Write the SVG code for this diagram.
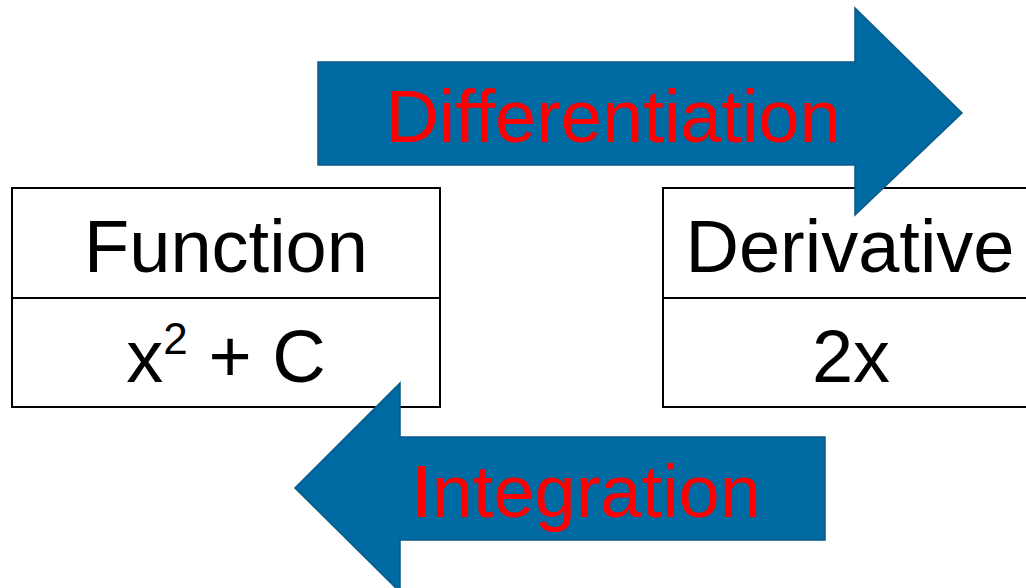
<svg xmlns="http://www.w3.org/2000/svg" width="1026" height="588" viewBox="0 0 1026 588">
<style>
.cell{fill:#fff;stroke:#000;stroke-width:2}
.t{font-family:"Liberation Sans",Arial,sans-serif;font-size:74px;fill:#000;text-anchor:middle}
.lbl{font-family:"Liberation Sans",Arial,sans-serif;font-size:74px;fill:#ff0000;text-anchor:middle}
.arrow{fill:#006aa2;stroke:#0b5a86;stroke-width:1.5}
</style>
<rect width="1026" height="588" fill="#fff"/>
<g id="function">
<rect class="cell" x="12" y="188" width="428" height="110"/>
<rect class="cell" x="12" y="298" width="428" height="109"/>
<text class="t" x="226" y="272">Function</text>
<text class="t" x="226" y="382">x<tspan font-size="44" dy="-28">2</tspan><tspan dy="28"> + C</tspan></text>
</g>
<g id="derivative">
<rect class="cell" x="663" y="188" width="376" height="110"/>
<rect class="cell" x="663" y="298" width="376" height="109"/>
<text class="t" x="850" y="272">Derivative</text>
<text class="t" x="851" y="382">2x</text>
</g>
<g id="connectors">
<g id="differentiation">
<polygon class="arrow" points="318,62 855,62 855,8 962,113 855,215 855,165 318,165"/>
<text class="lbl" x="613" y="142">Differentiation</text>
</g>
<g id="integration">
<polygon class="arrow" points="825,437 400,437 400,383 295,488 400,592 400,540 825,540"/>
<text class="lbl" x="586" y="517">Integration</text>
</g>
</g>
</svg>
